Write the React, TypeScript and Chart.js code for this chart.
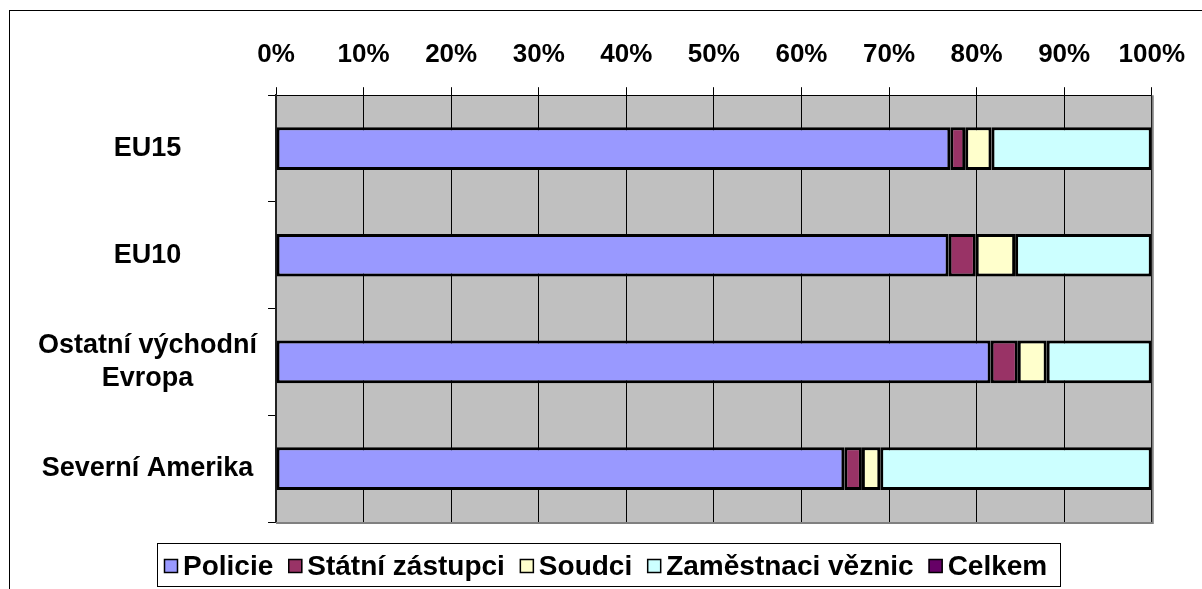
import React, { useEffect, useRef } from 'react';
import { Chart, registerables } from 'chart.js';

Chart.register(...registerables);

const categories: (string | string[])[] = ['EU15', 'EU10', ['Ostatní východní', 'Evropa'], 'Severní Amerika'];
const seriesNames = ['Policie', 'Státní zástupci', 'Soudci', 'Zaměstnaci věznic', 'Celkem'];
const policie = [77.0, 76.8, 81.6, 64.9];
const statniZastupci = [1.7, 3.1, 3.1, 2.0];
const soudci = [3.0, 4.5, 3.3, 2.1];
const zamestnanciVeznic = [18.3, 15.6, 12.0, 31.0];
const celkem: (number | null)[] = [null, null, null, null];
const seriesColors = ['#9999FF', '#993366', '#FFFFCC', '#CCFFFF', '#660066'];
const xTickValues = [0, 10, 20, 30, 40, 50, 60, 70, 80, 90, 100];

const FONT_FAMILY = '"Liberation Sans", Arial, Helvetica, sans-serif';

const plotBackground = {
  id: 'plotBackground',
  beforeDraw(chart: any) {
    const { ctx, chartArea } = chart;
    ctx.save();
    ctx.fillStyle = '#C0C0C0';
    ctx.fillRect(chartArea.left, chartArea.top, chartArea.right - chartArea.left, chartArea.bottom - chartArea.top);
    ctx.restore();
  },
  afterDatasetsDraw(chart: any) {
    const { ctx, chartArea } = chart;
    ctx.save();
    ctx.strokeStyle = '#808080';
    ctx.lineWidth = 2;
    ctx.beginPath();
    ctx.moveTo(chartArea.right + 1, chartArea.top);
    ctx.lineTo(chartArea.right + 1, chartArea.bottom + 2);
    ctx.moveTo(chartArea.left, chartArea.bottom + 1);
    ctx.lineTo(chartArea.right + 2, chartArea.bottom + 1);
    ctx.stroke();
    ctx.restore();
  },
};

const boxLegend = {
  id: 'boxLegend',
  afterDraw(chart: any) {
    const { ctx, chartArea } = chart;
    ctx.save();
    ctx.font = 'bold 28px ' + FONT_FAMILY;
    const box = 14;
    const gapText = 5;
    const gapItem = 15;
    const items = chart.data.datasets.map((ds: any) => ({
      text: ds.label as string,
      color: ds.backgroundColor as string,
      w: ctx.measureText(ds.label).width,
    }));
    const total = items.reduce((s: number, it: any) => s + box + gapText + it.w, 0) + gapItem * (items.length - 1);
    let x = Math.round((chart.width - total) / 2);
    const cy = Math.round(chartArea.bottom + 44);
    ctx.strokeStyle = '#000';
    ctx.lineWidth = 1;
    ctx.strokeRect(x - 7 + 0.5, cy - 23 + 0.5, Math.round(total + 20), 43);
    ctx.textBaseline = 'middle';
    ctx.textAlign = 'left';
    for (const it of items) {
      ctx.fillStyle = it.color;
      ctx.fillRect(x, cy - box / 2, box, box);
      ctx.strokeStyle = '#000';
      ctx.lineWidth = 1.5;
      ctx.strokeRect(x + 0.5, cy - box / 2 + 0.5, box - 1, box - 1);
      ctx.fillStyle = '#000';
      ctx.fillText(it.text, x + box + gapText, cy + 1);
      x += box + gapText + it.w + gapItem;
    }
    ctx.restore();
  },
};

export default function App() {
  const canvasRef = useRef<HTMLCanvasElement | null>(null);

  useEffect(() => {
    if (!canvasRef.current) return;
    const seriesData = [policie, statniZastupci, soudci, zamestnanciVeznic, celkem];
    const chart = new Chart(canvasRef.current, {
      type: 'bar',
      data: {
        labels: categories as any,
        datasets: seriesNames.map((name, i) => ({
          label: name,
          data: seriesData[i] as any,
          backgroundColor: seriesColors[i],
          borderColor: '#000000',
          borderWidth: 3,
          borderSkipped: false,
          barPercentage: 0.5,
          categoryPercentage: 0.8,
        })),
      },
      options: {
        indexAxis: 'y',
        responsive: false,
        maintainAspectRatio: false,
        animation: false,
        events: [],
        layout: { padding: { left: 17, right: 38, top: 11, bottom: 67 } },
        plugins: {
          legend: { display: false },
          tooltip: { enabled: false },
          title: { display: false },
        },
        scales: {
          x: {
            type: 'linear',
            position: 'top',
            stacked: true,
            min: 0,
            max: 100,
            afterBuildTicks: (axis: any) => {
              axis.ticks = xTickValues.map((v) => ({ value: v }));
            },
            ticks: {
              color: '#000',
              font: { family: FONT_FAMILY, size: 26, weight: 'bold' },
              padding: 17,
              maxRotation: 0,
              callback: (v: any) => v + '%',
            },
            grid: {
              color: '#000',
              lineWidth: 1,
              drawTicks: true,
              tickLength: 8,
              drawOnChartArea: true,
            },
            border: { display: true, color: '#000', width: 1 },
          },
          y: {
            type: 'category',
            stacked: true,
            ticks: {
              color: '#000',
              font: { family: FONT_FAMILY, size: 27, weight: 'bold', lineHeight: 1.2 },
              padding: 11,
              crossAlign: 'center',
            },
            grid: {
              offset: true,
              drawOnChartArea: false,
              drawTicks: true,
              tickLength: 8,
              color: '#000',
            },
            border: { display: true, color: '#222', width: 2 },
          },
        },
      },
      plugins: [plotBackground, boxLegend],
    });
    return () => chart.destroy();
  }, []);

  return (
    <div style={{ position: 'fixed', left: 0, top: 0, right: 0, bottom: 0, overflow: 'hidden', background: '#fff' }}>
      <div
        style={{
          position: 'absolute',
          left: 9,
          top: 10,
          width: 1260,
          height: 660,
          border: '1px solid #000',
          background: '#fff',
        }}
      >
        <canvas ref={canvasRef} width={1192} height={578} style={{ display: 'block', width: 1192, height: 578 }} />
      </div>
    </div>
  );
}
